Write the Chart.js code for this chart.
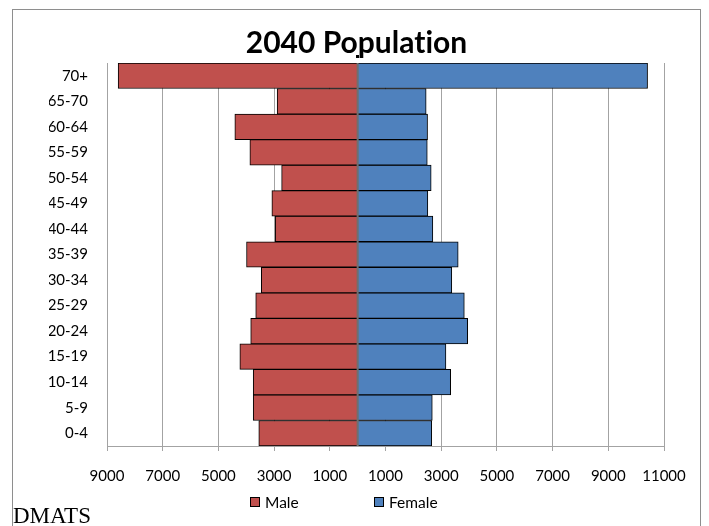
<!DOCTYPE html>
<html>
<head>
<meta charset="utf-8">
<title>2040 Population</title>
<script src="https://cdn.jsdelivr.net/npm/chart.js@4.4.1/dist/chart.umd.min.js"></script>
<style>
  html, body { margin: 0; padding: 0; background: #fff; }
  #wrap { position: relative; width: 709px; height: 526px; overflow: hidden; }
  #frame { position: absolute; left: 12px; top: 9px; width: 687px; height: 540px; border: 1px solid #8e8e8e; }
  #c { position: absolute; left: 0; top: 0; }
  #legend { position: absolute; left: 250px; top: 493px; display: flex; font: 15.5px Lato, sans-serif; color: #000; }
  #legend .item { display: flex; align-items: center; width: 124px; white-space: nowrap; }
  #legend .box { width: 10px; height: 10px; box-sizing: border-box; border: 1px solid #000; margin-right: 5px; }
  #source { position: absolute; left: 13px; top: 504px; font: 23px/23px "Liberation Serif", "Times New Roman", serif; color: #000; }
</style>
</head>
<body>
<div id="wrap">
  <div id="frame"></div>
  <canvas id="c" width="709" height="526"></canvas>
  <div id="legend"></div>
  <div id="source">DMATS</div>
</div>
<script>
// Age bands, youngest first (drawn bottom to top)
const ageGroups = ['0-4', '5-9', '10-14', '15-19', '20-24', '25-29', '30-34', '35-39',
                   '40-44', '45-49', '50-54', '55-59', '60-64', '65-70', '70+'];

// Projected 2040 population by age band
const maleCounts   = [3550, 3750, 3750, 4230, 3840, 3660, 3460, 3990,
                      2960, 3080, 2730, 3870, 4410, 2890, 8600];
const femaleCounts = [2660, 2680, 3340, 3170, 3950, 3830, 3380, 3610,
                      2700, 2520, 2640, 2500, 2510, 2460, 10410];

// Horizontal axis range and tick spacing
const axisMin = -9000;
const axisMax = 11000;
const axisStep = 2000;

const FONT = 'Lato, "Open Sans", sans-serif';

// Plain glyph rendering (no ligatures) for canvas text
const plainText = {
  id: 'plainText',
  beforeDraw(chart) {
    if ('textRendering' in chart.ctx) chart.ctx.textRendering = 'optimizeSpeed';
  }
};

// Grey line along zero separating the two halves of the pyramid
const zeroLine = {
  id: 'zeroLine',
  afterDatasetsDraw(chart) {
    const { ctx, chartArea, scales: { x } } = chart;
    const px = x.getPixelForValue(0);
    ctx.save();
    ctx.strokeStyle = '#6f6f6f';
    ctx.lineWidth = 2;
    ctx.beginPath();
    ctx.moveTo(px, chartArea.top);
    ctx.lineTo(px, chartArea.bottom);
    ctx.stroke();
    ctx.fillStyle = '#000';
    ctx.fillRect(Math.round(px) - 2, chartArea.top - 8, 3, 3);
    ctx.restore();
  }
};

// Legend rendered as HTML from the chart's own legend items
const htmlLegend = {
  id: 'htmlLegend',
  afterUpdate(chart) {
    const el = document.getElementById('legend');
    el.innerHTML = '';
    const items = chart.options.plugins.legend.labels.generateLabels(chart);
    items.forEach(item => {
      const li = document.createElement('div');
      li.className = 'item';
      const box = document.createElement('span');
      box.className = 'box';
      box.style.background = item.fillStyle;
      box.style.borderColor = '#000';
      const txt = document.createElement('span');
      txt.textContent = item.text;
      li.appendChild(box);
      li.appendChild(txt);
      el.appendChild(li);
    });
  }
};

new Chart(document.getElementById('c'), {
  type: 'bar',
  data: {
    labels: ageGroups,
    datasets: [
      {
        label: 'Male',
        data: maleCounts.map(v => -v),
        backgroundColor: '#C0504D',
        borderColor: '#000',
        borderWidth: 1,
        borderSkipped: 'start',
        barPercentage: 1,
        categoryPercentage: 1
      },
      {
        label: 'Female',
        data: femaleCounts,
        backgroundColor: '#4F81BD',
        borderColor: '#000',
        borderWidth: 1,
        borderSkipped: 'start',
        barPercentage: 1,
        categoryPercentage: 1
      }
    ]
  },
  options: {
    indexAxis: 'y',
    responsive: false,
    animation: false,
    devicePixelRatio: 1,
    layout: { padding: { top: 0, left: 49, right: 45, bottom: 35 } },
    plugins: {
      legend: { display: false },
      tooltip: { enabled: false },
      title: {
        display: true,
        text: '2040 Population',
        color: '#000',
        font: { family: FONT, size: 30, weight: 'bold', lineHeight: 1.2 },
        padding: { top: 25, bottom: 2 }
      }
    },
    scales: {
      x: {
        type: 'linear',
        stacked: true,
        min: axisMin,
        max: axisMax,
        afterFit(scale) { scale.height = 45; },
        ticks: {
          stepSize: axisStep,
          color: '#000',
          padding: 16,
          maxRotation: 0,
          font: { family: FONT, size: 15 },
          callback: v => String(Math.abs(v))
        },
        grid: {
          color: '#a3a3a3',
          lineWidth: 1,
          drawTicks: true,
          tickLength: 5,
          tickColor: '#a3a3a3'
        },
        border: { display: true, color: '#a3a3a3', width: 1 }
      },
      y: {
        type: 'category',
        stacked: true,
        reverse: true,
        afterFit(scale) { scale.width = 58; },
        ticks: {
          color: '#000',
          padding: 19,
          font: { family: FONT, size: 15 }
        },
        grid: { display: false, drawTicks: false },
        border: { display: false }
      }
    }
  },
  plugins: [plainText, zeroLine, htmlLegend]
});
</script>
</body>
</html>
